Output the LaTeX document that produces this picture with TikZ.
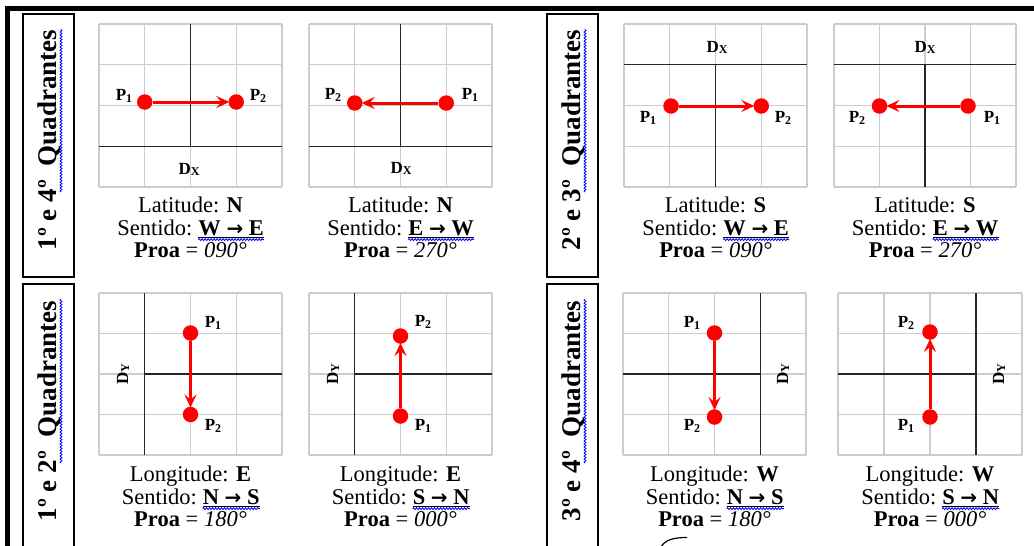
\documentclass[tikz,border=0pt]{standalone}
\usepackage{fontspec}
\setmainfont{Liberation Serif}
\newfontfamily\djv{DejaVu Sans}
\usetikzlibrary{arrows.meta,decorations.pathmorphing}

\tikzset{
  gridl/.style={draw=black!20, line width=1.2pt},
  axisl/.style={draw=black!85, line width=1.3pt},
  dot/.style={circle, fill=red, inner sep=0pt, minimum size=15.5pt},
  redarr/.style={draw=red, line width=3pt, -{Stealth[length=13pt,width=12pt,inset=5pt]}, shorten >=-1pt},
  plab/.style={inner sep=0pt, font=\fontsize{17}{17}\selectfont\bfseries},
  dlab/.style={inner sep=0pt, font=\fontsize{17}{17}\selectfont\bfseries},
  txt/.style={inner sep=0pt, anchor=base, font=\fontsize{22.5}{24}\selectfont},
  sidetxt/.style={inner sep=0pt, anchor=base, rotate=90, font=\fontsize{27}{30}\selectfont\bfseries},
  sidebox/.style={draw=black, line width=1.3pt},
  wav/.style={draw=blue, line width=0.8pt, decorate, decoration={snake, amplitude=1pt, segment length=3pt}},
  uline/.style={draw=black, line width=0.9pt},
  frame/.style={draw=black, line width=4.5pt},
}

\newcommand\Pn[1]{P{\fontsize{12}{12}\selectfont\raisebox{-1.5pt}{#1}}}
\newcommand\Dsub[1]{D{\fontsize{12}{12}\selectfont\raisebox{-1pt}{#1}}}
\newcommand\arr{{\djv\bfseries\fontsize{20}{20}\selectfont →}}

\newcommand\cellgrid[4]{%
  \foreach \k in {0,...,4}{%
    \draw[gridl] ({#1+(#3-#1)*\k/4},#2) -- ({#1+(#3-#1)*\k/4},#4);
    \draw[gridl] (#1,{#2+(#4-#2)*\k/4}) -- (#3,{#2+(#4-#2)*\k/4});
  }}

% cx, baseline, first line, sentido bold part, proa value, name
\newcommand\ptext[6]{%
  \node[txt] (#6a) at ({#1},{#2}) {#3};
  \node[txt] (#6f) at ({#1},{#2+23}) {\phantom{Sentido:\ \textbf{#4}}};
  \node[txt, anchor=base west] (#6s) at (#6f.base west) {Sentido:\ \mbox{}};
  \node[txt, anchor=base west] (#6b) at (#6s.base east) {\textbf{#4}};
  \draw[uline] ([yshift=-2.2pt]#6b.base west) -- ([yshift=-2.2pt]#6b.base east);
  \draw[wav] ([yshift=-4.6pt]#6b.base west) -- ([yshift=-4.6pt]#6b.base east);
  \node[txt] (#6p) at ({#1},{#2+45}) {\textbf{Proa} = \textit{#5}};
}

\begin{document}
\begin{tikzpicture}[x=1pt,y=-1pt]
\useasboundingbox (0,0) rectangle (1034,546);

% outer frame
\draw[frame] (5,8.3) -- (1034,8.3);
\draw[frame] (7.5,6) -- (7.5,546);

% side boxes
\draw[sidebox] (23,14) rectangle (74,277);
\draw[sidebox] (23,548) -- (23,284) -- (74,284) -- (74,548);
\draw[sidebox] (547,14) rectangle (598,277);
\draw[sidebox] (547,548) -- (547,284) -- (598,284) -- (598,548);

\node[sidetxt] (q1) at (56,140) {1º e 4º\ \ Quadrantes};
\node[sidetxt] (q2) at (580,140) {2º e 3º\ \ Quadrantes};
\node[sidetxt] (q3) at (56,411) {1º e 2º\ \ Quadrantes};
\node[sidetxt] (q4) at (580,411) {3º e 4º\ \ Quadrantes};
\draw[wav] (61,192) -- (61,29);
\draw[wav] (585,192) -- (585,29);
\draw[wav] (61,463) -- (61,299);
\draw[wav] (585,463) -- (585,299);

% ---------- Panel 1 ----------
\cellgrid{99}{24}{282}{187}
\draw[axisl] (190.5,24) -- (190.5,146.25);
\draw[axisl] (99,146.25) -- (282,146.25);
\node[dlab] (x1) at (189,169) {\Dsub{X}};
\node[dot] (d1a) at (144.75,102) {};
\node[dot] (d1b) at (236.25,102) {};
\draw[redarr] (d1a) -- (d1b);
\node[plab] (l1a) at (124,96) {\Pn{1}};
\node[plab] (l1b) at (258,96) {\Pn{2}};
\ptext{190.5}{212}{Latitude: \textbf{N}}{W \arr{} E}{090°}{t1}

% ---------- Panel 2 ----------
\cellgrid{309}{24}{492}{187}
\draw[axisl] (400.5,24) -- (400.5,146.25);
\draw[axisl] (309,146.25) -- (492,146.25);
\node[dlab] (x2) at (401,168) {\Dsub{X}};
\node[dot] (d2b) at (354.75,103) {};
\node[dot] (d2a) at (446.25,103) {};
\draw[redarr] (d2a) -- (d2b);
\node[plab] (l2b) at (333,95) {\Pn{2}};
\node[plab] (l2a) at (470,95) {\Pn{1}};
\ptext{400.5}{212}{Latitude: \textbf{N}}{E \arr{} W}{270°}{t2}

% ---------- Panel 3 ----------
\cellgrid{624}{24}{807}{187}
\draw[axisl] (624,64.75) -- (807,64.75);
\draw[axisl] (715.5,64.75) -- (715.5,187);
\node[dlab] (x3) at (717,47) {\Dsub{X}};
\node[dot] (d3a) at (671,106) {};
\node[dot] (d3b) at (761.25,106) {};
\draw[redarr] (d3a) -- (d3b);
\node[plab] (l3a) at (648,118) {\Pn{1}};
\node[plab] (l3b) at (783,118) {\Pn{2}};
\ptext{715.5}{212}{Latitude: \textbf{S}}{W \arr{} E}{090°}{t3}

% ---------- Panel 4 ----------
\cellgrid{834}{24}{1016}{187}
\draw[axisl] (834,64.75) -- (1016,64.75);
\draw[axisl] (925,64.75) -- (925,187);
\node[dlab] (x4) at (925,47) {\Dsub{X}};
\node[dot] (d4b) at (879.5,106) {};
\node[dot] (d4a) at (968,106) {};
\draw[redarr] (d4a) -- (d4b);
\node[plab] (l4b) at (857,118) {\Pn{2}};
\node[plab] (l4a) at (992,118) {\Pn{1}};
\ptext{925}{212}{Latitude: \textbf{S}}{E \arr{} W}{270°}{t4}

% ---------- Panel 5 ----------
\cellgrid{99}{293}{282}{455}
\draw[axisl] (144.75,293) -- (144.75,455);
\draw[axisl] (144.75,374) -- (282,374);
\node[dlab, rotate=90] (y5) at (123,374) {\Dsub{Y}};
\node[dot] (d5a) at (190.5,333) {};
\node[dot] (d5b) at (190.5,414.5) {};
\draw[redarr] (d5a) -- (d5b);
\node[plab] (l5a) at (213,323) {\Pn{1}};
\node[plab] (l5b) at (213,426) {\Pn{2}};
\ptext{190.5}{481}{Longitude: \textbf{E}}{N \arr{} S}{180°}{t5}

% ---------- Panel 6 ----------
\cellgrid{309}{293}{492}{455}
\draw[axisl] (354.75,293) -- (354.75,455);
\draw[axisl] (354.75,374) -- (492,374);
\node[dlab, rotate=90] (y6) at (333,374) {\Dsub{Y}};
\node[dot] (d6b) at (400.5,336) {};
\node[dot] (d6a) at (400.5,416) {};
\draw[redarr] (d6a) -- (d6b);
\node[plab] (l6b) at (423,322) {\Pn{2}};
\node[plab] (l6a) at (423,426) {\Pn{1}};
\ptext{400.5}{481}{Longitude: \textbf{E}}{S \arr{} N}{000°}{t6}

% ---------- Panel 7 ----------
\cellgrid{623}{293}{806}{455}
\draw[axisl] (760.25,293) -- (760.25,455);
\draw[axisl] (623,374) -- (760.25,374);
\node[dlab, rotate=90] (y7) at (783,374) {\Dsub{Y}};
\node[dot] (d7a) at (714.5,333) {};
\node[dot] (d7b) at (714.5,417) {};
\draw[redarr] (d7a) -- (d7b);
\node[plab] (l7a) at (692,323) {\Pn{1}};
\node[plab] (l7b) at (692,426) {\Pn{2}};
\ptext{714.5}{481}{Longitude: \textbf{W}}{N \arr{} S}{180°}{t7}

% ---------- Panel 8 ----------
\cellgrid{838}{293}{1022}{455}
\draw[axisl] (976,293) -- (976,455);
\draw[axisl] (838,374) -- (976,374);
\node[dlab, rotate=90] (y8) at (999,374) {\Dsub{Y}};
\node[dot] (d8b) at (930,332) {};
\node[dot] (d8a) at (930,417) {};
\draw[redarr] (d8a) -- (d8b);
\node[plab] (l8b) at (906,323) {\Pn{2}};
\node[plab] (l8a) at (906,426) {\Pn{1}};
\ptext{930}{481}{Longitude: \textbf{W}}{S \arr{} N}{000°}{t8}

% small cut-off stroke at the bottom
\draw[line width=1.2pt] (661,547) .. controls (665,540) and (673,537.5) .. (687,537.5);
\end{tikzpicture}
\end{document}
